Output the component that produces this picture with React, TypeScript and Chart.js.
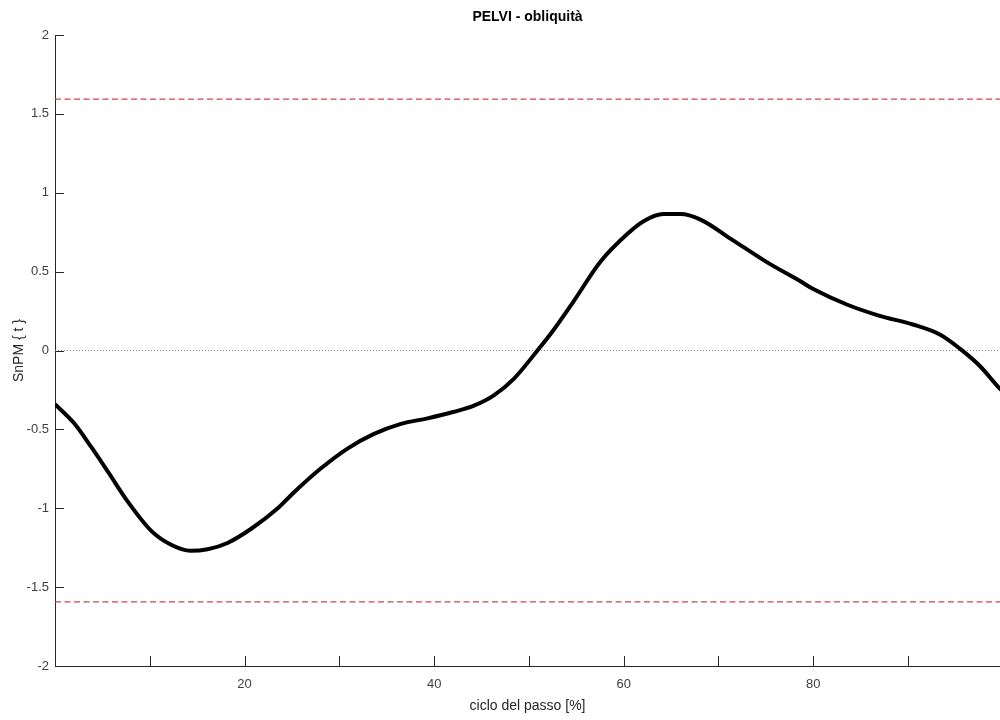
import React, { useEffect, useRef } from "react";
import { Chart, registerables } from "chart.js";

Chart.register(...registerables);

const chartTitle = "PELVI - obliquità";
const xAxisLabel = "ciclo del passo [%]";
const yAxisLabel = "SnPM { t }";

const cycleX = [
  0, 2, 3.8, 5.6, 7.7, 10.1, 12.2, 14.3, 16.1, 18.2, 20.7, 23.5, 25.2, 28.0,
  30.9, 33.6, 36.5, 39.3, 42.0, 44.2, 46.3, 48.4, 50.9, 52.6, 54.7, 57.5, 60.4,
  62.1, 64.2, 66.0, 68.1, 71.5, 75.1, 78.6, 80.0, 83.6, 87.0, 90.5, 93.4, 95.5,
  97.6, 99.5, 100.5,
];
const snpmT = [
  -0.34, -0.46, -0.61, -0.77, -0.96, -1.14, -1.23, -1.27, -1.26, -1.22, -1.13,
  -1.0, -0.9, -0.75, -0.62, -0.53, -0.465, -0.43, -0.39, -0.35, -0.285, -0.18,
  0.0, 0.13, 0.31, 0.56, 0.74, 0.82, 0.865, 0.865, 0.83, 0.7, 0.56, 0.44, 0.39,
  0.29, 0.22, 0.165, 0.1, 0.01, -0.1, -0.23, -0.29,
];
const criticalThreshold = 1.593;
const xRange = [0, 99.7];
const yRange = [-2, 2];
const xTickValues = [10, 20, 30, 40, 50, 60, 70, 80, 90];
const xLabeledTicks = [20, 40, 60, 80];
const yTickValues = [-2, -1.5, -1, -0.5, 0, 0.5, 1, 1.5, 2];

const FONT = "'Liberation Sans Narrow', 'Liberation Sans', Arial, sans-serif";
const AXIS_COLOR = "#262626";

const innerTicks = {
  id: "innerTicks",
  afterDraw(chart: any) {
    const { ctx, chartArea, scales } = chart;
    const x = scales.x;
    const y = scales.y;
    ctx.save();
    ctx.strokeStyle = AXIS_COLOR;
    ctx.lineWidth = 1;
    ctx.beginPath();
    for (const v of xTickValues) {
      const px = Math.round(x.getPixelForValue(v)) + 0.5;
      ctx.moveTo(px, chartArea.bottom);
      ctx.lineTo(px, chartArea.bottom - 10);
    }
    for (const v of yTickValues) {
      const py = Math.round(y.getPixelForValue(v)) + 0.5;
      ctx.moveTo(chartArea.left, py);
      ctx.lineTo(chartArea.left + 9, py);
    }
    ctx.stroke();
    ctx.restore();
  },
};

export default function App() {
  const ref = useRef<HTMLCanvasElement | null>(null);

  useEffect(() => {
    if (!ref.current) return;
    const chart = new Chart(ref.current, {
      type: "line",
      data: {
        datasets: [
          {
            label: "SnPM",
            data: cycleX.map((x, i) => ({ x, y: snpmT[i] })),
            borderColor: "#000000",
            borderWidth: 4,
            pointRadius: 0,
            cubicInterpolationMode: "monotone",
            fill: false,
          },
          {
            label: "upper",
            data: [
              { x: xRange[0], y: criticalThreshold },
              { x: 100, y: criticalThreshold },
            ],
            borderColor: "#cc4450",
            borderWidth: 1.3,
            borderDash: [6, 3.5],
            pointRadius: 0,
            fill: false,
          },
          {
            label: "lower",
            data: [
              { x: xRange[0], y: -criticalThreshold },
              { x: 100, y: -criticalThreshold },
            ],
            borderColor: "#cc4450",
            borderWidth: 1.3,
            borderDash: [6, 3.5],
            pointRadius: 0,
            fill: false,
          },
          {
            label: "zero",
            data: [
              { x: xRange[0], y: 0 },
              { x: 100, y: 0 },
            ],
            borderColor: "#8a8a8a",
            borderWidth: 1,
            borderDash: [1, 2],
            pointRadius: 0,
            fill: false,
          },
        ],
      },
      options: {
        responsive: false,
        animation: false,
        layout: { autoPadding: false, padding: { left: 0, right: 0, top: 0, bottom: 0 } },
        plugins: {
          legend: { display: false },
          tooltip: { enabled: false },
          title: {
            display: true,
            text: chartTitle,
            fullSize: false,
            color: "#000000",
            font: { family: FONT, size: 14, weight: "bold" },
            padding: { top: 9, bottom: 9.2 },
          },
        },
        scales: {
          x: {
            type: "linear",
            min: xRange[0],
            max: xRange[1],
            grid: { display: false, drawTicks: false, tickLength: 0 },
            border: { display: true, color: AXIS_COLOR, width: 1 },
            ticks: {
              stepSize: 10,
              autoSkip: false,
              maxRotation: 0,
              padding: 11,
              color: "#404040",
              font: { family: FONT, size: 13 },
              callback: (v: any) =>
                xLabeledTicks.includes(Number(v)) ? String(v) : "",
            },
            title: {
              display: true,
              text: xAxisLabel,
              color: AXIS_COLOR,
              font: { family: FONT, size: 14 },
              padding: { top: 0, bottom: 5 },
            },
            afterFit: (scale: any) => {
              scale.height = 54;
              scale.paddingLeft = 0;
              scale.paddingRight = 0;
            },
          },
          y: {
            type: "linear",
            min: yRange[0],
            max: yRange[1],
            grid: { display: false, drawTicks: false, tickLength: 0 },
            border: { display: true, color: AXIS_COLOR, width: 1 },
            ticks: {
              stepSize: 0.5,
              autoSkip: false,
              padding: 6,
              color: "#404040",
              font: { family: FONT, size: 13 },
              callback: (v: any) => String(Number(v)),
            },
            title: {
              display: true,
              text: yAxisLabel,
              color: AXIS_COLOR,
              font: { family: FONT, size: 14 },
              padding: { top: 11, bottom: 0 },
            },
            afterFit: (scale: any) => {
              scale.width = 55;
            },
          },
        },
      },
      plugins: [innerTicks],
    });
    return () => chart.destroy();
  }, []);

  return (
    <div
      style={{
        position: "fixed",
        left: 0,
        top: 0,
        width: 1000,
        height: 720,
        background: "#ffffff",
      }}
    >
      <canvas ref={ref} width={1000} height={720} style={{ width: 1000, height: 720 }} />
    </div>
  );
}
